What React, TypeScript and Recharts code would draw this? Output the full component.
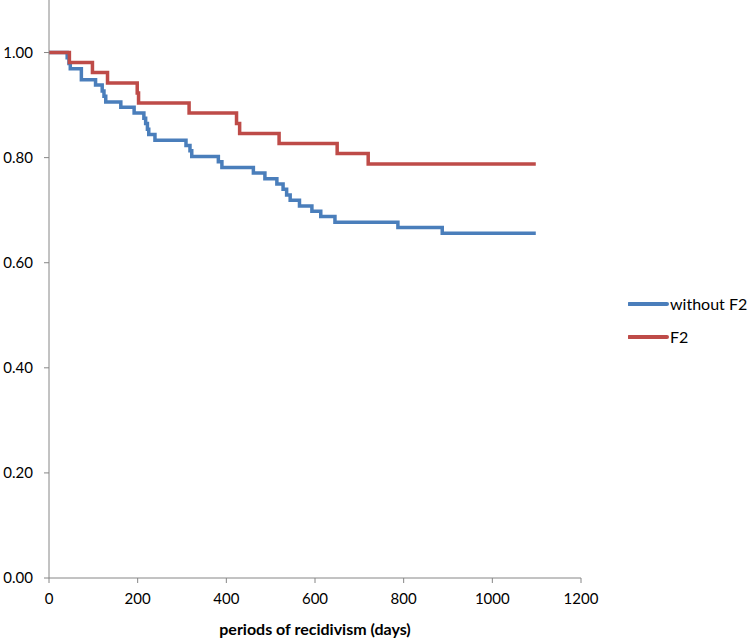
import { LineChart, Line, XAxis, YAxis, Legend } from 'recharts';

// Kaplan-Meier style survival steps
const withoutF2Days = [0, 41, 45, 48, 73, 105, 120, 124, 128, 162, 192, 214, 218, 222, 225, 239, 309, 318, 322, 382, 390, 461, 487, 514, 528, 536, 544, 565, 593, 613, 645, 787, 887, 1098];
const withoutF2Surv = [1, 0.99, 0.979, 0.969, 0.948, 0.938, 0.927, 0.917, 0.906, 0.896, 0.885, 0.875, 0.865, 0.854, 0.844, 0.833, 0.823, 0.813, 0.802, 0.792, 0.781, 0.771, 0.76, 0.75, 0.74, 0.729, 0.719, 0.708, 0.698, 0.688, 0.677, 0.667, 0.656, 0.656];

const f2Days = [0, 46, 98, 132, 199, 202, 316, 423, 430, 519, 650, 720, 1098];
const f2Surv = [1, 0.981, 0.962, 0.942, 0.923, 0.904, 0.885, 0.865, 0.846, 0.827, 0.808, 0.788, 0.788];

const xTicks = [0, 200, 400, 600, 800, 1000, 1200];
const yTicks = [0, 0.2, 0.4, 0.6, 0.8, 1.0];

const seriesNames = ['without F2', 'F2'];
const seriesColors = ['#4A7EBB', '#BE4B48'];

const withoutF2Data = withoutF2Days.map((day, i) => ({ day, surv: withoutF2Surv[i] }));
const f2Data = f2Days.map((day, i) => ({ day, surv: f2Surv[i] }));

const font = 'Lato, Carlito, Calibri, sans-serif';
const axisGray = '#868686';

function KmLegend() {
  return (
    <div style={{ width: 160, paddingLeft: 47, boxSizing: 'border-box', fontFamily: font, whiteSpace: 'nowrap' }}>
      {seriesNames.map((name, i) => (
        <div key={name} style={{ height: 33, display: 'flex', alignItems: 'center' }}>
          <svg width={41} height={6} style={{ display: 'block', flexShrink: 0 }}>
            <line x1={1} y1={3} x2={39} y2={3} stroke={seriesColors[i]} strokeWidth={4} strokeLinecap="round" />
          </svg>
          <span style={{ fontSize: 16, color: '#000', marginLeft: 1, flexShrink: 0 }}>{name}</span>
        </div>
      ))}
    </div>
  );
}

export default function App() {
  return (
    <div style={{ position: 'absolute', left: 0, top: 0, width: 750, height: 640, background: '#fff' }}>
      <LineChart width={750} height={640} margin={{ top: 0, right: 9, bottom: 0, left: 0 }}>
        <XAxis
          type="number"
          dataKey="day"
          domain={[0, 1200]}
          ticks={xTicks}
          height={62}
          stroke={axisGray}
          tickSize={5}
          tickMargin={10}
          tick={{ fill: '#000', fontSize: 15, fontFamily: font }}
          label={{
            value: 'periods of recidivism (days)',
            position: 'insideBottom',
            offset: 5,
            style: { fill: '#000', fontSize: 16, fontWeight: 'bold', fontFamily: font },
          }}
        />
        <YAxis
          type="number"
          domain={[0, 1.1]}
          ticks={yTicks}
          width={49}
          stroke={axisGray}
          tickSize={5}
          tickMargin={11}
          tickFormatter={(v) => Number(v).toFixed(2)}
          tick={{ fill: '#000', fontSize: 15, fontFamily: font }}
        />
        <Legend layout="vertical" align="right" verticalAlign="middle" content={() => <KmLegend />} />
        <Line
          data={withoutF2Data}
          dataKey="surv"
          name={seriesNames[0]}
          type="stepAfter"
          stroke={seriesColors[0]}
          strokeWidth={3.5}
          dot={false}
          isAnimationActive={false}
        />
        <Line
          data={f2Data}
          dataKey="surv"
          name={seriesNames[1]}
          type="stepAfter"
          stroke={seriesColors[1]}
          strokeWidth={3.5}
          dot={false}
          isAnimationActive={false}
        />
      </LineChart>
    </div>
  );
}
